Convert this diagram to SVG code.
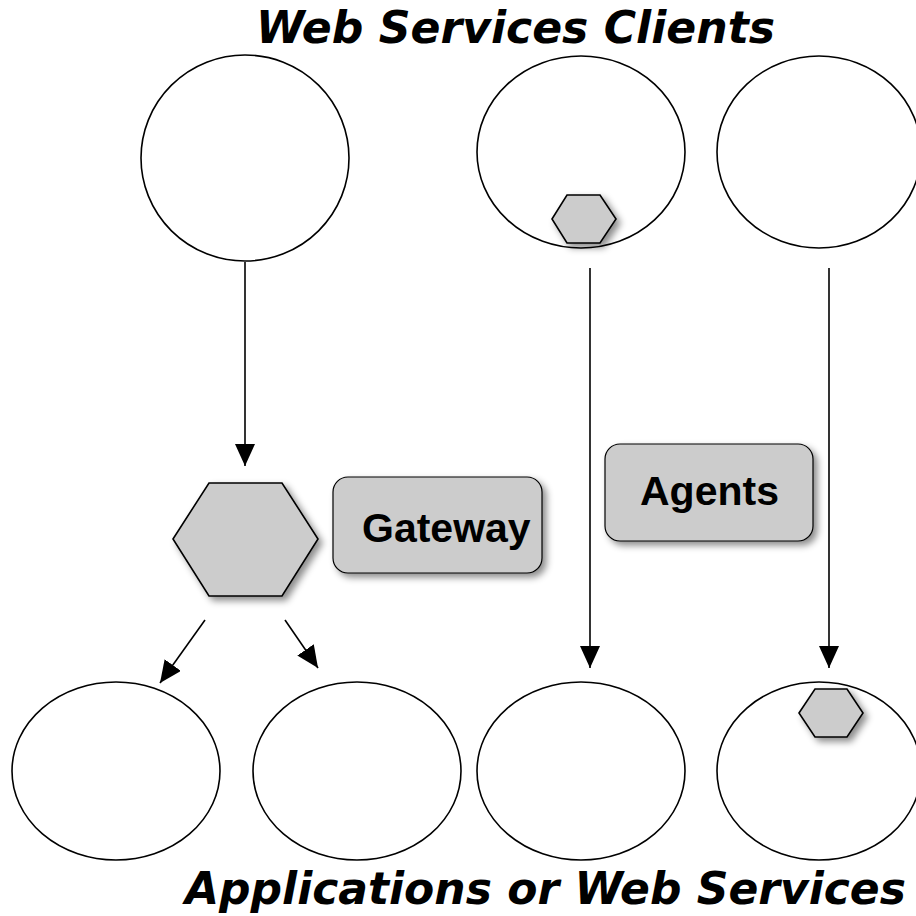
<svg xmlns="http://www.w3.org/2000/svg" width="916" height="916" viewBox="0 0 916 916">
  <defs>
    <style>
      .node { fill: #ffffff; stroke: #000000; stroke-width: 1.6; }
      .hex { fill: #cccccc; stroke: #000000; stroke-width: 1.6; filter: url(#shadow); }
      .box { fill: #cccccc; stroke: #000000; stroke-width: 1.2; filter: url(#shadow); }
      .label { font-family: "Liberation Sans", Arial, sans-serif; font-weight: bold; font-size: 41px; fill: #000000; }
      .title { font-family: "DejaVu Sans", Verdana, sans-serif; font-weight: bold; font-style: italic; font-size: 44px; fill: #000000; }
      .conn { stroke: #000000; stroke-width: 1.6; fill: none; marker-end: url(#arrow); }
    </style>
    <filter id="shadow" x="-30%" y="-30%" width="170%" height="170%">
      <feDropShadow dx="4" dy="4" stdDeviation="3.5" flood-color="#000000" flood-opacity="0.45"/>
    </filter>
    <marker id="arrow" markerUnits="userSpaceOnUse" markerWidth="24" markerHeight="22" refX="22" refY="10" orient="auto">
      <path d="M0,0 L22,10 L0,20 Z" fill="#000000"/>
    </marker>
  </defs>

  <text class="title" x="256" y="43" textLength="519" lengthAdjust="spacingAndGlyphs">Web Services Clients</text>
  <text class="title" x="185" y="904" font-size="45">Applications or Web Services</text>

  <!-- client ellipses -->
  <g id="client-1"><ellipse class="node" cx="245" cy="158" rx="104" ry="103"/></g>
  <g id="client-2">
    <ellipse class="node" cx="581" cy="152" rx="104" ry="96"/>
    <polygon class="hex" points="552,219 567,195 600,195 616,219 600,243 567,243"/>
  </g>
  <g id="client-3"><ellipse class="node" cx="819" cy="152" rx="102" ry="96"/></g>

  <!-- gateway -->
  <g id="gateway-hex"><polygon class="hex" points="173,539 209,483 282,483 318,539 282,596 209,596"/></g>
  <g id="gateway-label">
    <rect class="box" x="333" y="477" width="209" height="96" rx="15"/>
    <text class="label" x="362" y="542">Gateway</text>
  </g>

  <!-- agents -->
  <g id="agents-label">
    <rect class="box" x="605" y="444" width="208" height="97" rx="15"/>
    <text class="label" x="640" y="505">Agents</text>
  </g>

  <!-- service ellipses -->
  <g id="service-1"><ellipse class="node" cx="116" cy="771" rx="104" ry="89"/></g>
  <g id="service-2"><ellipse class="node" cx="357" cy="771" rx="104" ry="89"/></g>
  <g id="service-3"><ellipse class="node" cx="581" cy="771" rx="104" ry="89"/></g>
  <g id="service-4">
    <ellipse class="node" cx="819" cy="771" rx="102" ry="89"/>
    <polygon class="hex" points="799,713 815,689 847,689 863,713 847,737 815,737"/>
  </g>

  <!-- connectors -->
  <g id="connectors">
    <line class="conn" x1="245" y1="262" x2="245" y2="466"/>
    <line class="conn" x1="590" y1="268" x2="590" y2="668"/>
    <line class="conn" x1="829" y1="268" x2="829" y2="668"/>
    <line class="conn" x1="205" y1="620" x2="160" y2="683"/>
    <line class="conn" x1="285" y1="620" x2="318" y2="668"/>
  </g>
</svg>
